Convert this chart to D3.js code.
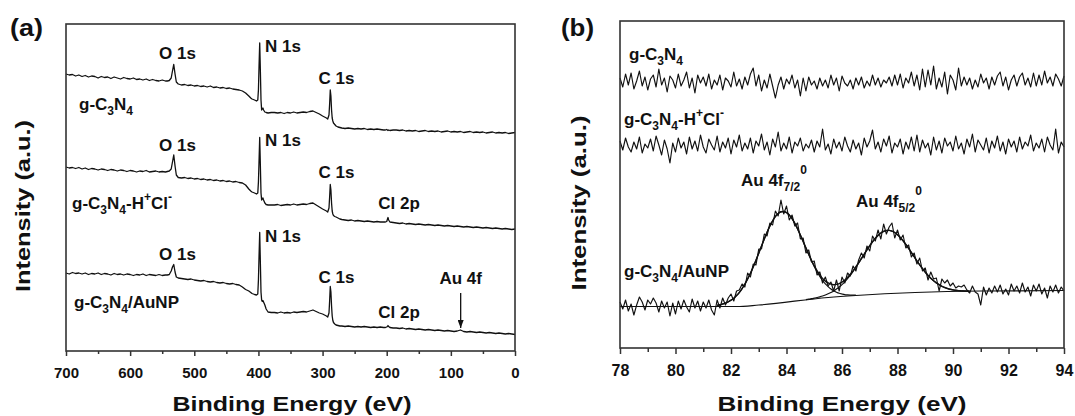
<!DOCTYPE html>
<html>
<head>
<meta charset="utf-8">
<script src="https://cdn.jsdelivr.net/npm/d3@7"></script>
<style>
  html, body { margin: 0; padding: 0; background: #fff; }
  svg { display: block; }
  text { font-family: "Liberation Sans", Arial, sans-serif; font-weight: bold; fill: #111; }
</style>
</head>
<body>
<svg id="fig" width="1075" height="416"></svg>
<script>
// ---------------- (a) XPS survey spectra ----------------
const surveyEnergy = [
  700,695,690,685,680,675,670,665,660,655,650,645,640,635,630,625,620,615,610,605,600,595,590,585,580,575,570,565,560,555,550,545,
  542,539,536,534,532,530,528,525,
  520,515,510,505,500,495,490,485,480,475,470,465,460,455,450,445,440,435,430,
  425,420,415,412,410,406,403,401,400,399,398,397,396,395,394,393,392,390,388,385,380,
  375,370,365,360,355,350,345,340,335,330,325,320,315,310,305,300,
  297,294,292,290,289,288,287,286,285,284,283,281,279,276,273,270,
  265,260,255,250,245,240,235,230,225,220,215,210,205,
  202,200,199,198,197,195,190,
  185,180,175,170,165,160,155,150,145,140,135,130,125,120,115,110,105,100,95,90,85,80,75,70,65,60,55,50,45,40,35,30,25,20,15,10,5,0
];
const surveyGCN = [
  277,276,276.5,275,276,274.5,275.5,274,275,274.5,273,274.5,273.5,274,272.5,274,273,272,273.5,272.5,272,273,271.5,272,271,272,270.5,271.5,270.5,270,271,270,
  270,270.5,273,280,286.5,277,269,267,
  266,266.5,265.5,266,265,265.5,264.5,265,264,265,263.5,264,263,263.5,262.5,263,262,261.5,261,
  260,258,255,253,252,251,250,251,261,286,308,281,251,241,242,243,241,239,238.5,238,238.5,
  238.5,238,238.5,237.5,238.5,238,239,238,238.5,239,238.5,239.5,240,238.5,237,235,
  234,233,232,236,247,261,255,241,233,230,228,226.5,225,224,223.5,223,
  222.5,223,222.5,222,222.5,222,222.5,221.5,222,221.5,222,221.5,221,
  221,221.5,221,220.5,221,220.5,221,
  221,220.5,221,220,220.5,220,220.5,219.5,220,220.5,219.5,220,219.5,220,219,219.5,220,219,219.5,219,
  219.5,218.5,219,219.5,218.5,219,218.5,219,218,218.5,219,218,218.5,218,218.5,217.5,218,218.5
];
const surveyGCNHCl = [
  184,183,183.5,182.5,183.5,182,183,181.5,182.5,182,181,182,181.5,180.5,181.5,181,180,181,180.5,179.5,180.5,180,179,180,179.5,180.5,179,179.5,180,179,179.5,179,
  179.5,180,182,189,196,185,176,173.5,
  173,173.5,172.5,173,172,172.5,171.5,172,171,171.5,170.5,171,170,170.5,169.5,170,169,169.5,168.5,
  168,166,162,160,159,158,157,158,169,191,213.5,186,158,151,152.5,153,151,148,146.5,146,146,
  146,146.5,145.5,146,146.5,146,147,146,146.5,147,146.5,147.5,148,146,144,142,
  141,140,139,143,154,166.5,161,148,140,137,135.5,134.5,134,133,132,131.5,
  131,130.5,131,130,130.5,130,129.5,130,129.5,129,129.5,129,129,
  129,129.5,131.5,133.5,131,129,128.5,
  128,127.5,128,127,127.5,127,126.5,127,126.5,126,126.5,126,125.5,126,125.5,125,125.5,125,124.5,125,
  124.5,124,124.5,124,123.5,124,123.5,123,123.5,123,122.5,123,122.5,122,122.5,122,121.5,122
];
const surveyGCNAu = [
  78,77,78.5,77.5,78,77,78,76.5,77.5,77,78,76.5,77.5,77,76,77.5,76.5,77,76,77,76.5,75.5,76.5,76,77,75.5,76.5,76,75.5,76.5,75.5,76,
  76,76.5,80,84,86.5,79,74,73,
  72.5,72,71.5,72,71,70.5,70,70.5,69.5,69,69.5,68.5,68,68.5,67.5,67,67.5,66.5,66,
  64,61.5,60,58.5,57.5,56.5,56,57,71,96,118.5,89,59,51,49.5,50.5,49,46,42,39,38.5,
  38.5,38,39,38,38.5,38,39,38.5,39,39.5,39,40,41,39.5,38,37,
  36,35,34,38,50,64.5,59,45,35,30.5,28.5,27,26,25.5,25,25,
  24.5,25,24.5,24,24.5,24,24.5,24,23.5,24,23.5,24,23.5,
  23.5,24,24.5,25.5,24.5,23.5,23,
  23,22.5,23,22,22.5,22,21.5,22,21.5,21,21.5,21,20.5,21,20.5,20,20.5,20,19.5,20,
  21,19.5,19,19.5,19,18.5,19,18.5,18,18.5,18,17.5,18,17.5,17,17.5,17,16.5
];
const surveyTicks = [700, 600, 500, 400, 300, 200, 100, 0];
const surveyMinorTicks = [650, 550, 450, 350, 250, 150, 50];
const auArrow = { energy: 84.7, from: 58, to: 23 };

// ---------------- (b) Au 4f high-resolution spectra ----------------
const auStart = 78, auStep = 0.1;
const auTicks = [78, 80, 82, 84, 86, 88, 90, 92, 94];
const auMinorTicks = [79, 81, 83, 85, 87, 89, 91, 93];
const au4fGCN = [
  270,261,274,263,275,259,267,277,262,271,
  258,269,273,261,279,263,270,256,272,268,
  260,274,262,268,276,260,270,255,273,265,
  271,262,274,259,268,263,273,258,270,267,
  261,276,262,269,259,271,263,274,280,262,
  273,257,268,260,274,262,250,263,271,259,
  269,264,273,260,268,252,270,257,271,263,
  267,259,270,262,268,260,273,263,270,257,
  272,265,262,268,259,270,263,271,260,267,
  262,273,263,270,261,268,265,271,262,273,
  263,274,260,270,265,276,262,273,258,279,
  261,278,263,282,259,270,261,276,254,273,
  268,258,280,262,271,263,270,259,268,261,
  274,265,270,259,271,263,272,276,262,271,
  258,268,273,262,271,275,263,270,261,275,
  262,273,263,277,265,271,262,274,269,262,
  272
];
const au4fGCNHCl = [
  207,198,210,201,196,206,199,211,195,204,
  200,209,197,212,203,193,208,199,185,205,
  196,210,200,206,194,211,199,207,197,213,
  201,195,209,203,198,212,196,206,200,210,
  194,208,201,213,197,205,199,210,195,207,
  202,214,198,206,193,209,201,216,197,205,
  199,211,195,206,202,210,197,204,200,208,
  196,207,201,219,198,204,194,209,200,206,
  197,211,202,196,208,199,205,193,210,201,
  207,218,199,206,196,209,202,212,195,205,
  201,209,194,206,199,211,197,213,196,208,
  200,205,193,211,198,207,195,210,202,206,
  197,212,199,205,194,209,201,214,196,208,
  203,198,210,195,207,200,212,197,206,194,
  209,201,207,196,211,199,206,202,213,197,
  205,200,209,196,211,203,198,219,195,206,
  201
];
const au4fGCNAu = [
  46,39,48,37,44,33,43,51,46,38,
  48,44,50,45,36,47,40,46,32,45,
  34,47,39,48,41,36,49,40,47,37,
  46,40,48,38,33,48,40,50,43,50,
  54,47,57,58,64,61,75,71,84,83,
  99,99,114,112,125,123,137,132,148,134,
  142,128,133,122,125,109,110,95,98,86,
  87,73,76,65,71,62,66,57,68,57,
  71,65,75,72,82,77,88,95,90,102,
  97,112,107,118,109,124,114,121,125,110,
  118,108,113,100,103,91,95,84,90,77,
  80,68,76,69,70,57,69,65,68,62,
  65,60,62,61,63,58,55,62,56,54,
  43,61,53,60,55,62,56,63,54,59,
  53,64,57,62,55,65,56,61,52,63,
  57,64,54,60,50,62,56,63,55,61,
  57
];
// Peak fit: background, Au 4f7/2 and Au 4f5/2 components, and fitted envelope
const fitBgEnergy = [78, 82.2, 83, 85.5, 86.5, 91, 94];
const fitBgValue  = [41.5, 41.5, 43, 50.5, 52.5, 57, 57.5];
const fitComp1Start = 81.5;
const fitComp1 = [
  42.7,43.2,44.0,44.9,46.2,47.8,49.8,52.4,55.5,59.4,64.0,69.1,74.8,81.1,87.8,94.8,
  102.0,109.0,115.8,121.9,127.2,131.5,134.5,136.2,136.5,135.4,133.0,129.3,124.6,119.1,112.9,106.5,
  99.9,93.4,87.2,81.4,76.2,71.6,67.5,64.1,61.4,59.0,57.2,55.8,54.7,54.0,53.4,53.1,52.9,52.8,52.8
];
const fitComp2Start = 84.7;
const fitComp2 = [
  48.4,48.8,49.3,49.8,50.5,51.2,52.0,53.0,54.2,55.5,57.0,58.9,61.0,63.4,66.2,69.4,72.9,76.7,80.8,
  85.0,89.4,93.8,98.1,102.3,106.2,109.7,112.6,115.0,116.6,117.5,117.6,116.9,115.5,113.3,110.6,107.3,
  103.6,99.6,95.5,91.3,87.1,83.1,79.3,75.8,72.6,69.7,67.2,65.1,63.3,61.7,60.5,59.5,58.7,58.1,57.7,
  57.4,57.1,57.0,56.9,56.9
];
const fitEnvStart = 81.5;
const fitEnvelope = [
  42.7,43.2,44.0,44.9,46.2,47.8,49.8,52.4,55.5,59.4,64.0,69.1,74.8,81.1,87.8,94.8,
  102.0,109.0,115.8,121.9,127.2,131.5,134.5,136.2,136.5,135.4,133.0,129.3,124.6,119.1,112.9,106.5,
  100.2,93.8,87.8,82.2,77.4,73.2,69.6,66.9,65.1,63.8,63.3,63.6,64.4,65.9,67.9,70.6,73.7,77.2,81.2,
  85.2,89.5,93.8,98.1,102.3,106.2,109.7,112.6,115.0,116.6,117.5,117.6,116.9,115.5,113.3,110.6,107.3,
  103.6,99.6,95.5,91.3,87.1,83.1,79.3,75.8,72.6,69.7,67.2,65.1,63.3,61.7,60.5,59.5,58.7,58.1,57.7,
  57.4,57.1,57.0,56.9,56.9
];

// ---------------- drawing ----------------
const svg = d3.select("#fig");
const INK = "#111";
const AXIS = "#333";

svg.append("defs").append("marker")
  .attr("id", "arrowHead")
  .attr("viewBox", "0 0 10 10")
  .attr("refX", 10).attr("refY", 5)
  .attr("markerUnits", "userSpaceOnUse")
  .attr("markerWidth", 8).attr("markerHeight", 6)
  .attr("preserveAspectRatio", "none")
  .attr("orient", "auto")
  .append("path").attr("d", "M0,0 L10,5 L0,10 Z").attr("fill", INK);

// rich text: parts = [{t, sub?, sup?}]
function richText(g, x, y, parts, opt) {
  const o = Object.assign({ size: 17, small: 12, subDy: 5, supDy: -8, anchor: "start" }, opt || {});
  const t = g.append("text").attr("x", x).attr("y", y)
    .attr("text-anchor", o.anchor).style("font-size", o.size + "px");
  let shift = 0;
  parts.forEach(p => {
    const target = p.sub ? o.subDy : p.sup ? (p.supDy !== undefined ? p.supDy : o.supDy) : 0;
    t.append("tspan").attr("dy", target - shift)
      .style("font-size", (p.sub || p.sup ? o.small : o.size) + "px").text(p.t);
    shift = target;
  });
  return t;
}
const GCN = [{t: "g-C"}, {t: "3", sub: true}, {t: "N"}, {t: "4", sub: true}];
const GCNHCl = GCN.concat([{t: "-H"}, {t: "+", sup: true}, {t: "Cl"}, {t: "-", sup: true}]);
const GCNAu = GCN.concat([{t: "/AuNP"}]);

function drawPanel(cfg) {
  const g = svg.append("g");
  const { x, y } = cfg;
  const [x0, x1] = x.range();
  const [yb, yt] = y.range();

  cfg.series.forEach(s => {
    g.append("path").datum(s.points)
      .attr("fill", "none").attr("stroke", INK)
      .attr("stroke-width", s.width || 1.3).attr("stroke-linejoin", "round")
      .attr("d", d3.line().x(d => x(d[0])).y(d => y(d[1])).curve(s.curve || d3.curveLinear));
  });

  // frame
  g.append("rect").attr("x", Math.min(x0, x1)).attr("y", yt)
    .attr("width", Math.abs(x1 - x0)).attr("height", yb - yt)
    .attr("fill", "none").attr("stroke", AXIS).attr("stroke-width", 1.6);

  // bottom axis, major + minor ticks
  const ax = g.append("g").attr("transform", `translate(0,${yb})`)
    .call(d3.axisBottom(x).tickValues(cfg.ticks).tickSize(cfg.major).tickPadding(cfg.pad).tickSizeOuter(0));
  ax.select(".domain").remove();
  ax.selectAll(".tick line").attr("stroke", AXIS).attr("stroke-width", 1.5);
  ax.selectAll(".tick text").attr("fill", INK)
    .style("font-family", '"Liberation Sans", Arial, sans-serif')
    .style("font-weight", "bold").style("font-size", cfg.tickFont + "px");
  const mx = g.append("g").attr("transform", `translate(0,${yb})`)
    .call(d3.axisBottom(x).tickValues(cfg.minor).tickSize(cfg.minorLen).tickFormat(""));
  mx.select(".domain").remove();
  mx.selectAll(".tick line").attr("stroke", AXIS).attr("stroke-width", 1.5);

  // axis titles
  g.append("text").attr("x", cfg.xTitle[0]).attr("y", cfg.xTitle[1])
    .attr("text-anchor", "middle").style("font-size", "21px")
    .attr("textLength", cfg.xTitle[2]).attr("lengthAdjust", "spacingAndGlyphs")
    .text("Binding Energy (eV)");
  g.append("text")
    .attr("transform", `translate(${cfg.yTitle[0]},${cfg.yTitle[1]}) rotate(-90)`)
    .attr("text-anchor", "middle").style("font-size", "21px")
    .attr("textLength", cfg.yTitle[2]).attr("lengthAdjust", "spacingAndGlyphs")
    .text("Intensity (a.u.)");
  g.append("text").attr("x", cfg.tag[0]).attr("y", cfg.tag[1])
    .style("font-size", "23px").attr("textLength", 33).attr("lengthAdjust", "spacingAndGlyphs")
    .text(cfg.tag[2]);
  return g;
}

// ----- panel (a)
const xA = d3.scaleLinear().domain([700, 0]).range([66, 515]);
const yA = d3.scaleLinear().domain([0, 327]).range([351, 24]);
const zipE = vals => surveyEnergy.map((e, i) => [e, vals[i]]);
const gA = drawPanel({
  x: xA, y: yA,
  series: [{points: zipE(surveyGCN)}, {points: zipE(surveyGCNHCl)}, {points: zipE(surveyGCNAu)}],
  ticks: surveyTicks, minor: surveyMinorTicks, major: 5, minorLen: 3, pad: 11, tickFont: 15,
  xTitle: [292, 411, 239], yTitle: [30, 206, 172], tag: [10, 36, "(a)"]
});

// survey annotations
const peakLbl = (txt, x, y, anchor) => richText(gA, x, y, [{t: txt}], {anchor: anchor});
[[59, 51.7, 84.4], [151.3, 145.5, 177.5], [260, 242, 283]].forEach(([o, n, c]) => {
  peakLbl("O 1s", 177.5, o, "middle");
  peakLbl("N 1s", 265, n, "start");
  peakLbl("C 1s", 336.5, c, "middle");
});
peakLbl("Cl 2p", 399, 208.5, "middle");
peakLbl("Cl 2p", 399, 318, "middle");
peakLbl("Au 4f", xA(auArrow.energy), 284, "middle");
gA.append("line")
  .attr("x1", xA(auArrow.energy)).attr("x2", xA(auArrow.energy))
  .attr("y1", yA(auArrow.from)).attr("y2", yA(auArrow.to))
  .attr("stroke", INK).attr("stroke-width", 1.3).attr("marker-end", "url(#arrowHead)");
richText(gA, 79, 110, GCN);
richText(gA, 72, 208.5, GCNHCl);
richText(gA, 74, 307.5, GCNAu);

// ----- panel (b)
const xB = d3.scaleLinear().domain([78, 94]).range([620, 1064]);
const yB = d3.scaleLinear().domain([0, 327]).range([348, 21]);
const grid = (start, vals) => vals.map((v, i) => [start + i * auStep, v]);
const gB = drawPanel({
  x: xB, y: yB,
  series: [
    {points: grid(auStart, au4fGCN), width: 1.15},
    {points: grid(auStart, au4fGCNHCl), width: 1.15},
    {points: grid(auStart, au4fGCNAu), width: 1.15},
    {points: fitBgEnergy.map((e, i) => [e, fitBgValue[i]]), width: 1.2, curve: d3.curveMonotoneX},
    {points: grid(fitComp1Start, fitComp1), width: 1.2, curve: d3.curveMonotoneX},
    {points: grid(fitComp2Start, fitComp2), width: 1.2, curve: d3.curveMonotoneX},
    {points: grid(fitEnvStart, fitEnvelope), width: 1.4, curve: d3.curveMonotoneX}
  ],
  ticks: auTicks, minor: auMinorTicks, major: 6, minorLen: 4, pad: 10.5, tickFont: 16,
  xTitle: [842, 411, 249], yTitle: [586, 203, 175], tag: [561, 36, "(b)"]
});
richText(gB, 629, 60, GCN);
richText(gB, 624, 124.5, GCNHCl);
richText(gB, 624, 276.7, GCNAu);
richText(gB, 741, 186, [{t: "Au 4f"}, {t: "7/2", sub: true}, {t: "0", sup: true, supDy: -12}]);
richText(gB, 856, 207, [{t: "Au 4f"}, {t: "5/2", sub: true}, {t: "0", sup: true, supDy: -12}]);
</script>
</body>
</html>
